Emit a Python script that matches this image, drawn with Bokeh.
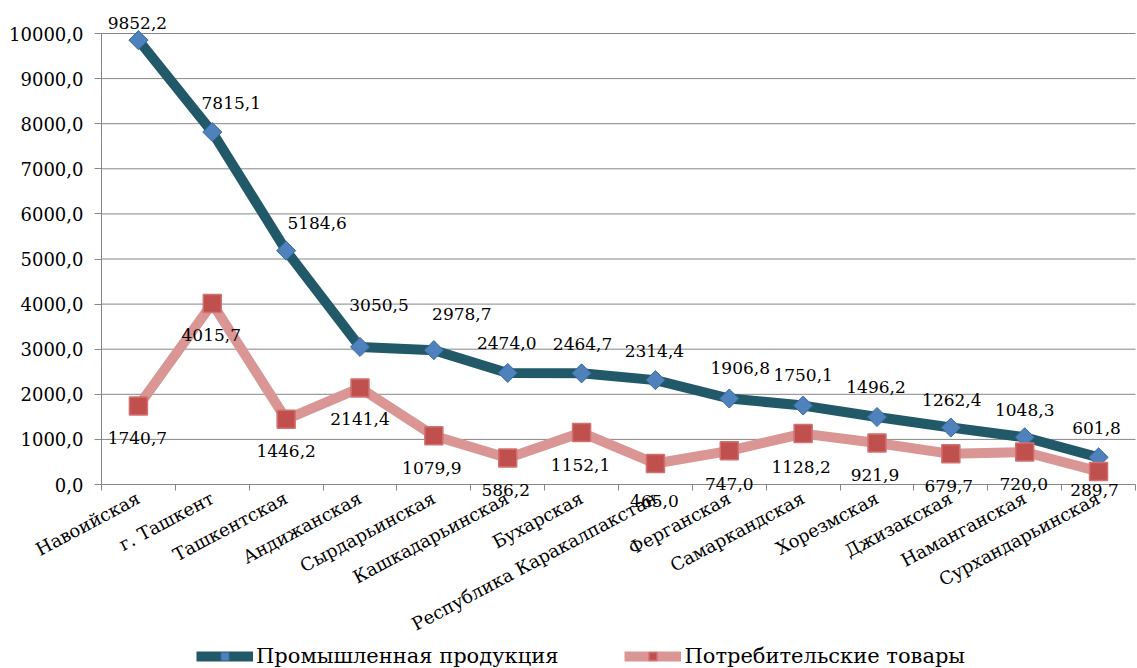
import math
from bokeh.plotting import figure
from bokeh.models import (Range1d, FixedTicker, LabelSet, ColumnDataSource,
                          Legend, LegendItem)
from bokeh.core.properties import value
from bokeh.embed import file_html
from bokeh.resources import INLINE

# ---------------- data ----------------
regions = ["Навоийская", "г. Ташкент", "Ташкентская", "Андижанская",
           "Сырдарьинская", "Кашкадарьинская", "Бухарская",
           "Республика Каракалпакстан", "Ферганская", "Самаркандская",
           "Хорезмская", "Джизакская", "Наманганская", "Сурхандарьинская"]
industrial = [9852.2, 7815.1, 5184.6, 3050.5, 2978.7, 2474.0, 2464.7,
              2314.4, 1906.8, 1750.1, 1496.2, 1262.4, 1048.3, 601.8]
consumer = [1740.7, 4015.7, 1446.2, 2141.4, 1079.9, 586.2, 1152.1,
            465.0, 747.0, 1128.2, 921.9, 679.7, 720.0, 289.7]
y_ticks = [0, 1000, 2000, 3000, 4000, 5000, 6000, 7000, 8000, 9000, 10000]
y_tick_labels = ["0,0", "1000,0", "2000,0", "3000,0", "4000,0", "5000,0",
                 "6000,0", "7000,0", "8000,0", "9000,0", "10000,0"]
series_names = ["Промышленная продукция", "Потребительские товары"]

# ---------------- label placement (screen px, + = right / down) ----------------
ind_dx = [-1, 19, 31, 19, 28, -1, 1, -1, 11, 0, -1, 1, 0, -2]
ind_dy = [-17, -29, -28, -42, -36, -30, -29, -29, -31, -31, -30, -28, -27, -29]
con_dx = [-1, -1, 0, 0, -2, -2, -1, -1, 0, -2, -2, -2, -1, -4]
con_dy = [32, 32, 32, 31, 32, 32, 32, 37, 33, 33, 32, 32, 32, 19]

def fmt(v):
    return f"{v:.1f}".replace(".", ",")

n = len(regions)
xs = list(range(n))
x_lo, x_hi = -0.5, n - 0.5

# ---------------- layout (screen px) ----------------
W, H = 1137, 668
plot_left, plot_right = 101, 1135
zero_px, top_px = 484, 33
px_per_cat = (plot_right - plot_left) / n
px_per_unit = (zero_px - top_px) / 10000.0
x_start = x_lo - plot_left / px_per_cat
x_end = x_hi + (W - plot_right) / px_per_cat
y_start = -(H - zero_px) / px_per_unit
y_end = 10000 + top_px / px_per_unit

FONT = "DejaVu Serif"
GRID = "#868686"

p = figure(width=W, height=H, x_range=Range1d(x_start, x_end),
           y_range=Range1d(y_start, y_end), output_backend="svg",
           toolbar_location=None, min_border_left=0, min_border_right=0,
           min_border_top=0, min_border_bottom=0)
p.outline_line_color = None
p.background_fill_color = "white"
p.border_fill_color = "white"
p.xgrid.visible = False
p.ygrid.visible = False

# horizontal gridlines spanning only the plot area
p.segment(x0=[x_lo] * (len(y_ticks) - 1), x1=[x_hi] * (len(y_ticks) - 1),
          y0=y_ticks[1:], y1=y_ticks[1:], line_color=GRID, line_width=1,
          level="underlay")

# y axis (at left edge of the categories)
yax = p.yaxis[0]
yax.fixed_location = x_lo
yax.ticker = FixedTicker(ticks=y_ticks)
yax.major_label_overrides = {t: l for t, l in zip(y_ticks, y_tick_labels)}
yax.bounds = (0, 10000)
yax.axis_line_color = GRID
yax.major_tick_line_color = GRID
yax.major_tick_out = 7
yax.major_tick_in = 0
yax.minor_tick_line_color = None
yax.major_label_standoff = 11
yax.major_label_text_font = FONT
yax.major_label_text_font_size = "18px"
yax.major_label_text_color = "#000000"

# x axis (drawn at value 0)
xax = p.xaxis[0]
xax.fixed_location = 0
xax.bounds = (x_lo, x_hi)
xax.ticker = FixedTicker(ticks=xs, minor_ticks=[i - 0.5 for i in range(n + 1)])
xax.major_label_overrides = {i: r for i, r in zip(xs, regions)}
xax.axis_line_color = GRID
xax.major_tick_line_color = None
xax.major_tick_out = 0
xax.major_tick_in = 0
xax.minor_tick_line_color = GRID
xax.minor_tick_out = 6
xax.minor_tick_in = 0
xax.major_label_orientation = math.radians(28)
xax.major_label_standoff = 6
xax.major_label_text_font = FONT
xax.major_label_text_font_size = "18px"
xax.major_label_text_color = "#000000"

# series
l1 = p.line(xs, industrial, line_color="#215968", line_width=10, line_join="round")
m1 = p.scatter(xs, industrial, marker="square", size=13.5, angle=math.pi / 4,
               fill_color="#4F81BD", line_color="#3A6A9E", line_width=1)
l2 = p.line(xs, consumer, line_color="#D99694", line_width=10, line_join="round")
m2 = p.scatter(xs, consumer, marker="square", size=18,
               fill_color="#C0504D", line_color="#D27270", line_width=1.5)

src1 = ColumnDataSource(dict(x=xs, y=industrial, t=[fmt(v) for v in industrial],
                             dx=ind_dx, dy=[-d for d in ind_dy]))
src2 = ColumnDataSource(dict(x=xs, y=consumer, t=[fmt(v) for v in consumer],
                             dx=con_dx, dy=[-d for d in con_dy]))
for src in (src1, src2):
    p.add_layout(LabelSet(x="x", y="y", text="t", x_offset="dx", y_offset="dy",
                          source=src, text_align="center", text_baseline="middle",
                          text_font=value(FONT), text_font_size="17px",
                          text_color="#000000"))

legend = Legend(items=[LegendItem(label=series_names[0], renderers=[l1, m1]),
                       LegendItem(label=series_names[1], renderers=[l2, m2])],
                location=(196, 0), orientation="horizontal",
                glyph_width=57, glyph_height=20, label_standoff=3, spacing=66,
                padding=2, margin=0, border_line_color=None,
                background_fill_alpha=0, label_text_font=FONT,
                label_text_font_size="21px", label_text_color="#000000")
p.add_layout(legend)

open("out.html", "w").write(file_html(p, INLINE))
